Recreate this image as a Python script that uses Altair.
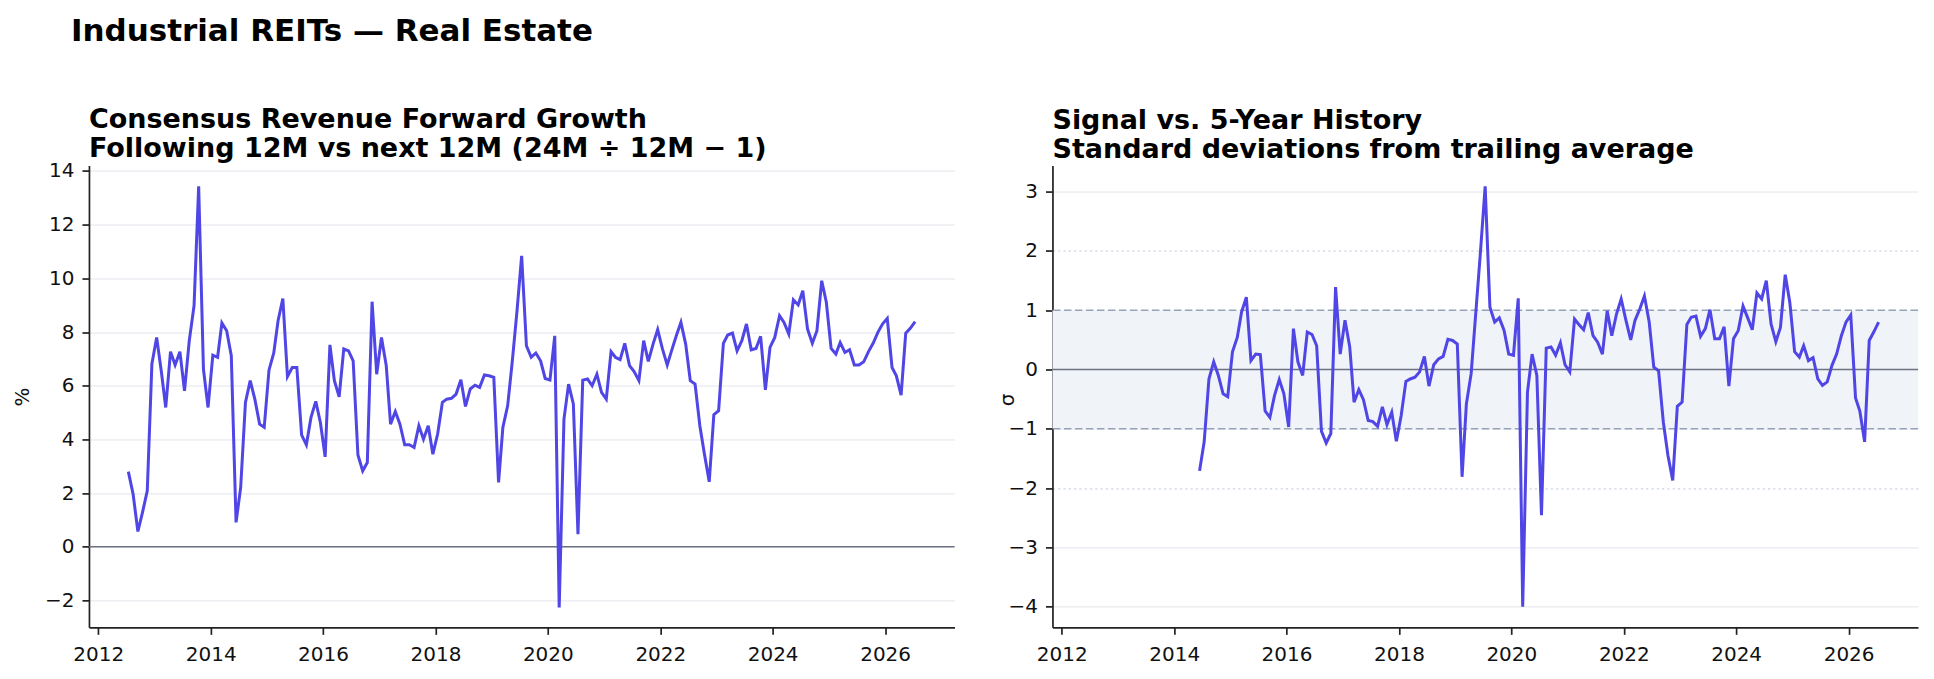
import altair as alt
import pandas as pd

# ---------------- data (monthly) ----------------
FIRST_MONTH_INDEX = 6      # Jul 2012 (months counted from Jan 2012)
Z_FIRST_MONTH_INDEX = 29   # Jun 2014

growth_pct = [
    2.80, 1.96, 0.57, 1.28, 2.09, 6.81, 7.80, 6.50, 5.19, 7.27,
    6.77, 7.27, 5.81, 7.68, 8.98, 13.43, 6.62, 5.19, 7.14, 7.06,
    8.34, 8.05, 7.12, 0.91, 2.21, 5.38, 6.19, 5.50, 4.57, 4.45,
    6.58, 7.22, 8.42, 9.25, 6.34, 6.68, 6.68, 4.17, 3.80, 4.82,
    5.42, 4.63, 3.35, 7.52, 6.19, 5.59, 7.37, 7.30, 6.93, 3.42,
    2.83, 3.14, 9.13, 6.43, 7.80, 6.75, 4.57, 5.04, 4.57, 3.80,
    3.80, 3.70, 4.51, 4.01, 4.51, 3.45, 4.20, 5.38, 5.50, 5.53,
    5.69, 6.22, 5.23, 5.88, 6.02, 5.94, 6.40, 6.37, 6.31, 2.40,
    4.45, 5.25, 6.90, 8.80, 10.84, 7.49, 7.06, 7.22, 6.93, 6.27,
    6.21, 7.86, -2.26, 4.76, 6.06, 5.32, 0.47, 6.21, 6.25, 6.00,
    6.43, 5.75, 5.50, 7.27, 7.06, 6.97, 7.58, 6.75, 6.53, 6.19,
    7.68, 6.91, 7.55, 8.09, 7.37, 6.77, 7.30, 7.86, 8.36, 7.55,
    6.19, 6.06, 4.51, 3.45, 2.42, 4.92, 5.07, 7.58, 7.89, 7.96,
    7.30, 7.68, 8.30, 7.34, 7.39, 7.84, 5.85, 7.43, 7.80, 8.61,
    8.36, 7.93, 9.20, 9.01, 9.54, 8.11, 7.58, 8.05, 9.91, 9.11,
    7.39, 7.18, 7.61, 7.24, 7.34, 6.77, 6.77, 6.89, 7.27, 7.58,
    7.99, 8.30, 8.51, 6.68, 6.37, 5.65, 7.96, 8.15, 8.39,
]

zscore = [
    -1.71, -1.22, -0.16, 0.13, -0.10, -0.41, -0.46, 0.30, 0.54, 0.97,
    1.22, 0.15, 0.26, 0.25, -0.70, -0.81, -0.44, -0.17, -0.41, -0.97,
    0.69, 0.13, -0.10, 0.63, 0.59, 0.40, -1.04, -1.24, -1.08, 1.39,
    0.26, 0.83, 0.38, -0.55, -0.34, -0.51, -0.86, -0.88, -0.96, -0.63,
    -0.93, -0.72, -1.21, -0.78, -0.20, -0.16, -0.13, -0.04, 0.22, -0.28,
    0.08, 0.18, 0.22, 0.51, 0.49, 0.43, -1.81, -0.58, -0.07, 0.95,
    2.00, 3.09, 1.05, 0.80, 0.87, 0.66, 0.26, 0.24, 1.20, -4.00,
    -0.38, 0.26, -0.10, -2.46, 0.36, 0.38, 0.24, 0.45, 0.08, -0.04,
    0.85, 0.76, 0.67, 0.96, 0.57, 0.46, 0.26, 0.99, 0.57, 0.94,
    1.19, 0.83, 0.50, 0.83, 1.02, 1.24, 0.80, 0.04, -0.02, -0.89,
    -1.45, -1.87, -0.62, -0.55, 0.76, 0.88, 0.90, 0.56, 0.69, 1.01,
    0.52, 0.52, 0.72, -0.28, 0.52, 0.66, 1.07, 0.88, 0.67, 1.29,
    1.19, 1.50, 0.77, 0.47, 0.71, 1.60, 1.13, 0.30, 0.21, 0.40,
    0.15, 0.20, -0.16, -0.27, -0.21, 0.07, 0.26, 0.57, 0.80, 0.92,
    -0.48, -0.70, -1.22, 0.49, 0.64, 0.80,
]

year_ticks = [2012, 2014, 2016, 2018, 2020, 2022, 2024, 2026]
growth_ticks = [-2, 0, 2, 4, 6, 8, 10, 12, 14]
z_ticks = [-4, -3, -2, -1, 0, 1, 2, 3]
band_limits = [-1, 1]

SUPTITLE = "Industrial REITs — Real Estate"
LEFT_TITLE = ["Consensus Revenue Forward Growth", "Following 12M vs next 12M (24M ÷ 12M − 1)"]
RIGHT_TITLE = ["Signal vs. 5-Year History", "Standard deviations from trailing average"]


def month_dates(first, n):
    out = []
    for i in range(n):
        k = first + i
        out.append(f"{2012 + k // 12}-{k % 12 + 1:02d}-15T00:00:00")
    return out


growth_df = pd.DataFrame({"date": month_dates(FIRST_MONTH_INDEX, len(growth_pct)), "value": growth_pct})
z_df = pd.DataFrame({"date": month_dates(Z_FIRST_MONTH_INDEX, len(zscore)), "value": zscore})

# ---------------- styling ----------------
FONT = "DejaVu Sans"
LINE_COLOR = "#4f46e5"
ZERO_COLOR = "#6b7280"
W, H = 866, 462

x_enc = alt.X(
    "date:T",
    scale=alt.Scale(domain=[alt.DateTime(year=2011, month=11, date=2),
                            alt.DateTime(year=2027, month=3, date=28)]),
    axis=alt.Axis(values=[alt.DateTime(year=y, month=1, date=1) for y in year_ticks],
                  format="%Y", title=None, grid=False, labelPadding=10,
                  labelFlush=False, labelOverlap=False),
)


def panel_title(lines, offset):
    return alt.TitleParams(lines, anchor="start", frame="group", fontSize=27,
                           fontWeight="bold", font=FONT, color="#000000",
                           lineHeight=29, offset=offset)


# ---------------- left panel ----------------
left_line = alt.Chart(growth_df).mark_line(color=LINE_COLOR, strokeWidth=3.0).encode(
    x=x_enc,
    y=alt.Y("value:Q",
            scale=alt.Scale(domain=[-3.0, 14.2], nice=False, zero=False),
            axis=alt.Axis(values=growth_ticks, format="d", title="%", titleAngle=-90,
                          titleX=-66, titleY=231, titleAlign="center",
                          titleBaseline="middle", grid=True, labelPadding=8)),
)
left_zero = alt.Chart(pd.DataFrame({"value": [0]})).mark_rule(
    color=ZERO_COLOR, strokeWidth=1.5).encode(y="value:Q")

left = alt.layer(left_zero, left_line).properties(
    width=W, height=H, title=panel_title(LEFT_TITLE, -2))

# ---------------- right panel ----------------
band = alt.Chart(pd.DataFrame({"value": [band_limits[0]], "hi": [band_limits[1]]})).mark_rect(
    color="#f0f3f8").encode(y="value:Q", y2="hi:Q")
band_edges = alt.Chart(pd.DataFrame({"value": band_limits})).mark_rule(
    color="#94a3b8", strokeWidth=1.4, strokeDash=[7.5, 3.5]).encode(y="value:Q")
right_zero = alt.Chart(pd.DataFrame({"value": [0]})).mark_rule(
    color=ZERO_COLOR, strokeWidth=1.5).encode(y="value:Q")
right_line = alt.Chart(z_df).mark_line(color=LINE_COLOR, strokeWidth=3.0).encode(
    x=x_enc,
    y=alt.Y("value:Q",
            scale=alt.Scale(domain=[-4.35, 3.44], nice=False, zero=False),
            axis=alt.Axis(values=z_ticks, format="d", title="σ", titleAngle=-90,
                          titleX=-45, titleY=234, titleAlign="center",
                          titleBaseline="middle", grid=True, labelPadding=8,
                          gridDash={"condition": {"test": "abs(datum.value) == 2", "value": [2, 3.3]},
                                    "value": []},
                          gridColor={"condition": {"test": "abs(datum.value) == 2", "value": "#b9c6da"},
                                     "value": "#e3e5ec"})),
)

right = alt.layer(band, band_edges, right_zero, right_line).properties(
    width=W, height=H, title=panel_title(RIGHT_TITLE, 1.5))

chart = alt.hconcat(left, right, spacing=98, bounds="flush").properties(
    title=alt.TitleParams(SUPTITLE, anchor="start", frame="group", fontSize=31,
                          font=FONT, fontWeight="bold", color="#000000",
                          dx=-18, offset=58),
    padding={"left": 13, "top": 15.5, "right": 15, "bottom": 12},
    background="white",
).configure_view(stroke=None).configure_axis(
    domainColor="#222222", domainWidth=1.7,
    tickColor="#222222", tickWidth=1.7, tickSize=7,
    labelFont=FONT, labelFontSize=20, labelColor="#111111",
    titleFont=FONT, titleFontSize=20, titleColor="#111111", titleFontWeight="normal",
    gridColor="#e3e5ec", gridWidth=1,
)

chart.save("out.html", embed_options={"renderer": "svg", "actions": False})
